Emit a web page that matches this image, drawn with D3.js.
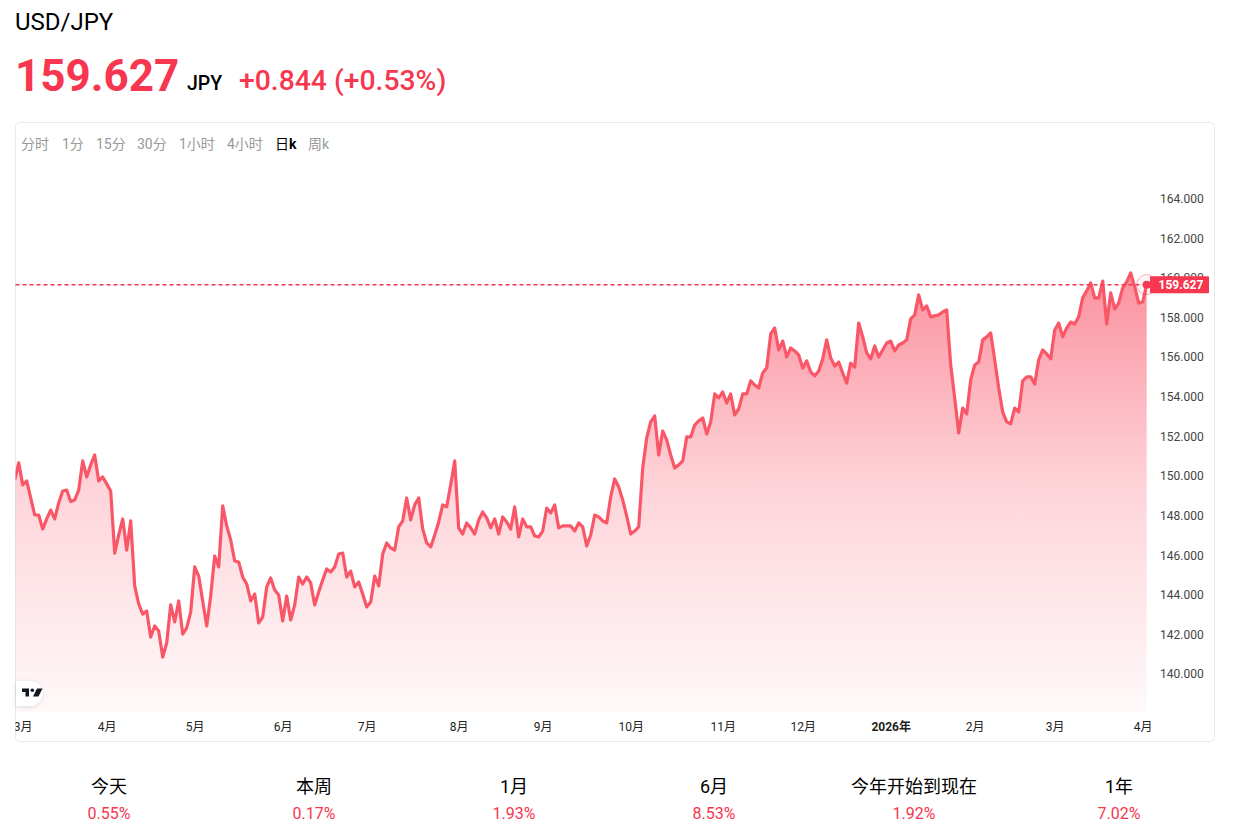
<!DOCTYPE html>
<html lang="zh-CN">
<head>
<meta charset="utf-8">
<title>USD/JPY</title>
<script src="https://cdn.jsdelivr.net/npm/d3@7"></script>
<style>
  html, body { margin: 0; padding: 0; background: #fff; overflow: hidden; }
  svg { display: block; font-family: Roboto, "Noto Sans CJK SC", sans-serif; }
</style>
</head>
<body>
<div id="chart"></div>
<script>
// daily closes
const closes = [
  149.77,150.63,149.52,149.72,148.86,148.00,148.00,147.29,147.80,148.25,147.80,148.61,149.21,149.26,148.68,148.76,149.26,150.73,149.92,150.53,
  151.03,149.72,149.92,149.57,149.21,146.08,146.99,147.80,146.23,147.70,144.42,143.51,143.00,143.16,141.84,142.40,142.15,140.83,141.54,143.46,
  142.60,143.66,141.99,142.30,143.10,145.38,144.92,143.66,142.40,143.91,145.93,145.38,148.46,147.45,146.74,145.68,145.63,144.87,144.52,143.66,
  144.01,142.55,142.85,144.37,144.82,144.22,143.96,142.65,143.91,142.70,143.46,144.87,144.52,144.87,144.57,143.46,144.11,144.72,145.28,145.12,
  145.38,146.03,146.08,144.87,145.17,144.37,144.62,144.01,143.36,143.61,144.92,144.42,146.03,146.59,146.34,146.23,147.40,147.70,148.86,147.75,
  148.51,148.86,147.29,146.59,146.39,146.99,147.65,148.51,148.41,149.52,150.73,147.35,147.04,147.60,147.35,147.04,147.75,148.15,147.85,147.35,
  147.80,147.04,147.90,147.65,147.29,148.41,146.89,147.80,147.40,147.40,146.94,146.89,147.19,148.35,148.10,148.51,147.35,147.45,147.45,147.45,
  147.19,147.60,147.40,146.44,146.99,148.00,147.90,147.70,147.60,148.91,149.82,149.41,148.76,147.95,147.04,147.19,147.40,150.37,151.89,152.70,
  153.00,151.03,152.24,151.79,151.03,150.37,150.53,150.73,151.94,151.94,152.54,152.75,152.90,152.09,152.70,154.11,153.91,154.21,153.65,154.11,
  153.05,153.35,154.11,154.11,154.77,154.56,154.41,155.17,155.42,157.14,157.44,156.33,156.78,155.98,156.43,156.28,156.08,155.42,155.78,155.22,
  155.02,155.27,155.88,156.84,155.93,155.52,155.72,155.17,154.66,155.67,155.47,157.69,156.99,156.18,155.88,156.53,155.98,156.33,156.68,156.78,
  156.28,156.58,156.68,156.84,157.90,158.10,159.11,158.35,158.55,158.00,158.05,158.10,158.25,158.35,155.57,153.91,152.14,153.40,153.10,154.82,
  155.57,155.72,156.84,156.99,157.19,155.83,154.41,153.20,152.70,152.60,153.40,153.20,154.77,154.97,154.97,154.61,155.83,156.33,156.13,155.88,
  157.34,157.69,156.99,157.44,157.74,157.64,158.00,158.96,159.31,159.71,158.96,158.96,159.81,157.64,159.21,158.40,158.70,159.46,159.76,160.22,
  159.51,158.70,158.75,159.627
];

// index of the first trading day of each month
const monthStarts = [2, 23, 45, 67, 88, 111, 132, 154, 177, 197, 219, 240, 260, 282];
const monthLabels = ["3月", "4月", "5月", "6月", "7月", "8月", "9月", "10月", "11月", "12月", "2026年", "2月", "3月", "4月"];

const priceTicks = [140, 142, 144, 146, 148, 150, 152, 154, 156, 158, 160, 162, 164];

const tabs = ["分时", "1分", "15分", "30分", "1小时", "4小时", "日k", "周k"];
const activeTab = "日k";

const statNames = ["今天", "本周", "1月", "6月", "今年开始到现在", "1年"];
const statValues = [0.55, 0.17, 1.93, 8.53, 1.92, 7.02];

const pair = "USD/JPY";
const lastPrice = 159.627;
const quoteCcy = "JPY";
const change = 0.844;
const changePct = 0.53;

const width = 1243;
const height = 835;
const red = "#f7374f";
const lineRed = "#f95768";

const plotLeft = 15.5;
const plotRight = 1147;
const plotBottom = 712;

const svg = d3.select("#chart").append("svg")
  .attr("width", width)
  .attr("height", height);

const x = d3.scaleLinear().domain([0, closes.length - 1]).range([14.7, 1146.7]);
const y = d3.scaleLinear().domain([140, 164]).range([673.5, 198]);

// header
svg.append("text").attr("x", 15).attr("y", 30)
  .attr("font-size", 24).attr("fill", "#000").text(pair);
svg.append("text").attr("x", 15).attr("y", 91)
  .attr("font-size", 44).attr("font-weight", 700).attr("fill", red)
  .text(d3.format(".3f")(lastPrice));
svg.append("text").attr("x", 187).attr("y", 90)
  .attr("font-size", 19.5).attr("font-weight", 500).attr("fill", "#000").text(quoteCcy);
svg.append("text").attr("x", 239).attr("y", 90)
  .attr("font-size", 28.3).attr("font-weight", 500).attr("fill", red)
  .text(`+${d3.format(".3f")(change)} (+${changePct}%)`);

// card
svg.append("rect")
  .attr("x", 15.5).attr("y", 122.5).attr("width", 1199).attr("height", 619).attr("rx", 4)
  .attr("fill", "#fff").attr("stroke", "#e9e9e9");

// interval tabs, the k of the active one is bold
const tabX = [21, 62, 96, 137, 179, 227, 275, 308];
svg.append("g").selectAll("text")
  .data(tabs)
  .join("text")
  .attr("x", (d, i) => tabX[i])
  .attr("y", 149)
  .attr("font-size", 14)
  .attr("fill", d => d === activeTab ? "#000" : "#999")
  .each(function(d) {
    const t = d3.select(this);
    if (d === activeTab) {
      t.append("tspan").text(d.slice(0, -1));
      t.append("tspan").attr("font-weight", 700).text(d.slice(-1));
    } else {
      t.text(d);
    }
  });

const defs = svg.append("defs");

const grad = defs.append("linearGradient")
  .attr("id", "areaFill")
  .attr("gradientUnits", "userSpaceOnUse")
  .attr("x1", 0).attr("x2", 0)
  .attr("y1", y(d3.max(closes))).attr("y2", plotBottom);
grad.append("stop").attr("offset", "0%").attr("stop-color", red).attr("stop-opacity", 0.55);
grad.append("stop").attr("offset", "50%").attr("stop-color", red).attr("stop-opacity", 0.21);
grad.append("stop").attr("offset", "100%").attr("stop-color", red).attr("stop-opacity", 0.03);

defs.append("clipPath").attr("id", "plotClip").append("rect")
  .attr("x", plotLeft).attr("y", 123).attr("width", plotRight - plotLeft).attr("height", plotBottom - 123);
defs.append("clipPath").attr("id", "axisClip").append("rect")
  .attr("x", plotLeft).attr("y", 712).attr("width", plotRight - plotLeft + 20).attr("height", 29);

const shadow = defs.append("filter").attr("id", "logoShadow")
  .attr("x", "-30%").attr("y", "-30%").attr("width", "160%").attr("height", "160%");
shadow.append("feDropShadow").attr("dx", 0).attr("dy", 1).attr("stdDeviation", 2)
  .attr("flood-color", "#000").attr("flood-opacity", 0.13);

const plot = svg.append("g").attr("clip-path", "url(#plotClip)");

const area = d3.area()
  .x((d, i) => x(i))
  .y0(plotBottom)
  .y1(d => y(d));

const line = d3.line()
  .x((d, i) => x(i))
  .y(d => y(d));

plot.append("path").datum(closes)
  .attr("d", area)
  .attr("fill", "url(#areaFill)");

plot.append("path").datum(closes)
  .attr("d", line)
  .attr("fill", "none")
  .attr("stroke", lineRed)
  .attr("stroke-width", 3.2)
  .attr("stroke-linejoin", "round");

// price axis
const yAxis = d3.axisRight(y)
  .tickValues(priceTicks)
  .tickFormat(d3.format(".3f"))
  .tickSize(0)
  .tickPadding(0);

svg.append("g")
  .attr("transform", "translate(1160,0.6)")
  .call(yAxis)
  .call(g => g.select(".domain").remove())
  .call(g => g.selectAll("text")
    .attr("font-family", "Roboto, sans-serif")
    .attr("font-size", 12)
    .attr("fill", "#444"));

// month axis
const xAxis = d3.axisBottom(x)
  .tickValues(monthStarts)
  .tickFormat((d, i) => monthLabels[i])
  .tickSize(0)
  .tickPadding(0);

svg.append("g")
  .attr("clip-path", "url(#axisClip)")
  .append("g")
  .attr("transform", "translate(0,722)")
  .call(xAxis)
  .call(g => g.select(".domain").remove())
  .call(g => g.selectAll("text")
    .attr("font-family", 'Roboto, "Noto Sans CJK SC", sans-serif')
    .attr("font-size", 12)
    .attr("font-weight", (d, i) => monthLabels[i].includes("年") ? 700 : 400)
    .attr("fill", "#222"));

// last price line and marker
svg.append("line")
  .attr("x1", plotLeft).attr("x2", plotRight)
  .attr("y1", y(lastPrice)).attr("y2", y(lastPrice))
  .attr("stroke", red).attr("stroke-width", 1.5).attr("stroke-dasharray", "4 3");

const lastX = x(closes.length - 1);
svg.append("circle")
  .attr("cx", lastX).attr("cy", y(lastPrice)).attr("r", 10)
  .attr("fill", red).attr("fill-opacity", 0.05)
  .attr("stroke", red).attr("stroke-opacity", 0.4);
svg.append("circle")
  .attr("cx", lastX).attr("cy", y(lastPrice)).attr("r", 4)
  .attr("fill", red);

svg.append("rect")
  .attr("x", 1150).attr("y", y(lastPrice) - 8.5).attr("width", 59).attr("height", 17).attr("rx", 1)
  .attr("fill", red);
svg.append("text")
  .attr("x", 1181).attr("y", y(lastPrice) + 4.5)
  .attr("text-anchor", "middle")
  .attr("font-size", 12).attr("font-weight", 700).attr("fill", "#fff")
  .text(d3.format(".3f")(lastPrice));

// tradingview badge
const badge = svg.append("g").attr("transform", "translate(16,681)");
badge.append("path")
  .attr("d", "M0,0 H14 A12.5,12.5 0 0 1 14,25 H0 Z")
  .attr("fill", "#fff")
  .attr("filter", "url(#logoShadow)");
badge.append("path")
  .attr("d", "M6,7.5 H13 V15.5 H9.5 V11 H6 Z M21,7.5 H26.5 L22.5,15.5 H17 Z")
  .attr("fill", "#131722");
badge.append("circle").attr("cx", 16.3).attr("cy", 9.3).attr("r", 1.8).attr("fill", "#131722");

// period stats under the card
const statCx = [109, 314, 514, 714, 914, 1119];

const stats = svg.append("g").selectAll("g")
  .data(statNames)
  .join("g")
  .attr("transform", (d, i) => `translate(${statCx[i]},0)`)
  .attr("text-anchor", "middle");

stats.append("text")
  .attr("y", 793)
  .attr("font-size", 18)
  .attr("fill", "#000")
  .text(d => d);

stats.append("text")
  .attr("y", 819)
  .attr("font-size", 16)
  .attr("fill", red)
  .text((d, i) => d3.format(".2f")(statValues[i]) + "%");
</script>
</body>
</html>
